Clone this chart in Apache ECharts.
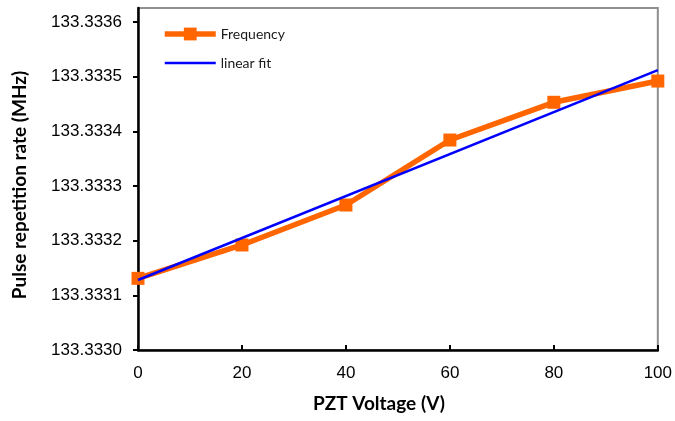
<!DOCTYPE html>
<html>
<head>
<meta charset="utf-8">
<script src="https://cdn.jsdelivr.net/npm/echarts@6/dist/echarts.min.js"></script>
<style>
html,body{margin:0;padding:0;background:#fff;}
#chart{width:675px;height:421px;}
</style>
</head>
<body>
<div id="chart"></div>
<script>
// PZT voltage (V)
var voltages = [0, 20, 40, 60, 80, 100];
// Measured pulse repetition rate (MHz)
var frequency = [133.3331311, 133.3331921, 133.3332652, 133.3333841, 133.3334531, 133.3334920];
// Linear fit end points
var fitVoltages = [0, 100];
var fitValues = [133.3331280, 133.3335120];
// Axis tick labels
var yTickLabels = ['133.3330', '133.3331', '133.3332', '133.3333', '133.3334', '133.3335', '133.3336'];
var xTickLabels = ['0', '20', '40', '60', '80', '100'];

var yTickValues = yTickLabels.map(Number);
var xTickValues = xTickLabels.map(Number);

var chart = echarts.init(document.getElementById('chart'), null, {renderer: 'canvas'});
chart.setOption({
  animation: false,
  backgroundColor: '#fff',
  grid: {
    left: 138, right: 16, top: 8, bottom: 71,
    show: true, borderColor: '#8f8f8f', borderWidth: 2, backgroundColor: 'transparent'
  },
  legend: {
    orient: 'vertical', left: 162, top: 27, padding: 0,
    itemWidth: 51, itemHeight: 16, itemGap: 15,
    textStyle: {fontFamily: 'Lato', fontSize: 14, color: '#1a1a1a'},
    lineStyle: {width: 'inherit'},
    data: [
      {name: 'Frequency'},
      {name: 'linear fit', itemStyle: {opacity: 0}}
    ]
  },
  xAxis: {
    type: 'value', min: 0, max: 100, interval: 20,
    name: 'PZT Voltage (V)', nameLocation: 'middle', nameGap: 44,
    nameTextStyle: {fontFamily: 'Lato', fontWeight: 'bold', fontSize: 19, color: '#000', padding: [0, 38, 0, 0]},
    axisLine: {lineStyle: {color: '#000', width: 2.5}},
    axisTick: {inside: true, length: 5, lineStyle: {color: '#000', width: 2}},
    axisLabel: {
      fontFamily: 'Liberation Sans', fontSize: 17, color: '#000', margin: 15,
      customValues: xTickValues,
      formatter: function (v) { return String(Math.round(v)); }
    },
    splitLine: {show: false}
  },
  yAxis: {
    type: 'value', min: 133.333, max: 133.3336256,
    name: 'Pulse repetition rate (MHz)', nameLocation: 'middle', nameGap: 109,
    nameTextStyle: {fontFamily: 'Lato', fontWeight: 'bold', fontSize: 19, color: '#000', padding: [0, 12, 0, 0]},
    axisLine: {show: true, lineStyle: {color: '#000', width: 2.5}},
    axisTick: {show: true, inside: false, length: 5, lineStyle: {color: '#000', width: 2}, customValues: yTickValues},
    axisLabel: {
      fontFamily: 'Liberation Sans', fontSize: 17, color: '#000', margin: 16,
      customValues: yTickValues,
      formatter: function (v) { return Number(v).toFixed(4); }
    },
    splitLine: {show: false}
  },
  series: [
    {
      name: 'Frequency', type: 'line',
      data: voltages.map(function (x, i) { return [x, frequency[i]]; }),
      symbol: 'rect', symbolSize: 13, showSymbol: true,
      lineStyle: {color: '#FF6600', width: 5.5},
      itemStyle: {color: '#FF6600'},
      z: 2
    },
    {
      name: 'linear fit', type: 'line',
      data: fitVoltages.map(function (x, i) { return [x, fitValues[i]]; }),
      symbol: 'none',
      lineStyle: {color: '#0000FF', width: 2.5},
      itemStyle: {color: '#0000FF'},
      z: 3
    }
  ]
});
</script>
</body>
</html>
